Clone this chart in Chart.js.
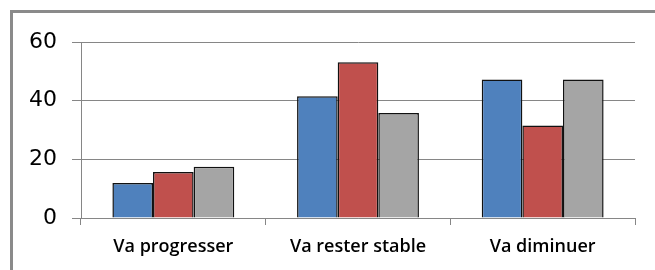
<!DOCTYPE html>
<html><head><meta charset="utf-8">
<script src="https://cdn.jsdelivr.net/npm/chart.js@4"></script>
<style>html,body{margin:0;padding:0;background:#fff}#wrap{width:655px;height:270px;position:relative}</style>
</head><body><div id="wrap"><canvas id="c" width="655" height="270"></canvas></div>
<script>
const categories = ["Va progresser", "Va rester stable", "Va diminuer"];
const series1 = [11.9, 41.5, 47.2];
const series2 = [15.7, 53.1, 31.5];
const series3 = [17.5, 35.8, 47.2];
const yTicks = [0, 20, 40, 60];

const frame = {
  id: 'frame',
  afterDraw(chart) {
    const ctx = chart.ctx;
    ctx.save();
    ctx.strokeStyle = '#8a8a8a';
    ctx.lineWidth = 3;
    ctx.beginPath();
    ctx.moveTo(11.5, 270);
    ctx.lineTo(11.5, 11.5);
    ctx.lineTo(655, 11.5);
    ctx.stroke();
    ctx.restore();
  }
};
const mk = (d, c) => ({data: d, backgroundColor: c, borderColor: '#111', borderWidth: 1.5, categoryPercentage: 0.66, barPercentage: 1});
new Chart(document.getElementById('c'), {
  type: 'bar',
  data: {labels: categories, datasets: [mk(series1, '#4F81BD'), mk(series2, '#C0504D'), mk(series3, '#A5A5A5')]},
  plugins: [frame],
  options: {
    responsive: false, animation: false,
    layout: {padding: {top: 42, right: 20, left: 0, bottom: 0}},
    plugins: {legend: {display: false}, tooltip: {enabled: false}},
    scales: {
      y: {
        min: 0, max: 60,
        afterBuildTicks(s) { s.ticks = yTicks.map(v => ({value: v})); },
        afterFit(s) { s.width = 81; },
        grid: {color: '#868686', lineWidth: 1, tickLength: 9},
        border: {color: '#868686', width: 1},
        ticks: {padding: 15, color: '#000', font: {family: 'DejaVu Sans', size: 22}}
      },
      x: {
        afterFit(s) { s.height = 52; },
        grid: {drawOnChartArea: false, color: '#868686', tickLength: 7, offset: true},
        border: {color: '#868686', width: 1},
        ticks: {padding: 11, color: '#000', font: {family: 'Open Sans', size: 18, weight: '600'}}
      }
    }
  }
});
</script></body></html>
